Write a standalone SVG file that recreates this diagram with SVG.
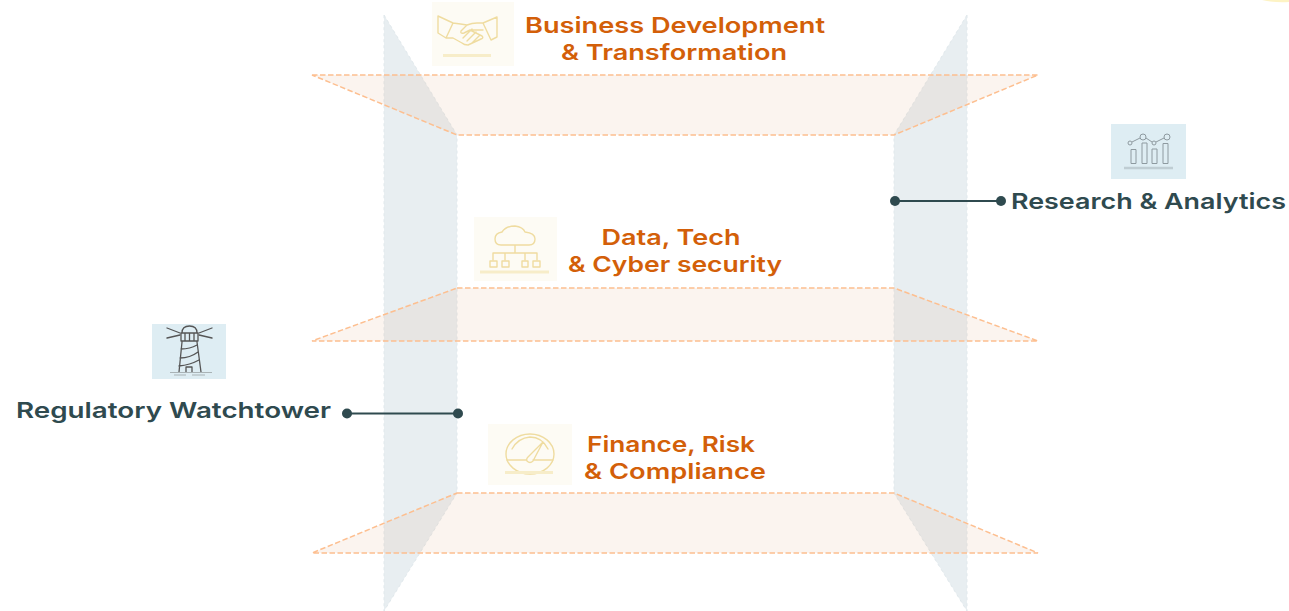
<svg xmlns="http://www.w3.org/2000/svg" width="1289" height="611" viewBox="0 0 1289 611">
<style>
.wall{fill:#e8eef1;stroke:#e0e8ec;stroke-width:1;stroke-dasharray:3 3}
.plane{fill:#e0b090;fill-opacity:.14;stroke:#fdbf90;stroke-width:1.5;stroke-dasharray:5.500 2.500}
.t{font-family:"Inter","Liberation Sans",sans-serif;font-weight:600;font-size:22px}
.o{fill:#d35f09}.d{fill:#2f4a4f}
.ibg{fill:#fdfbf4}.dbg{fill:#deedf3}
.y{fill:none;stroke:#efdca0;stroke-width:1.4;stroke-linejoin:round;stroke-linecap:round}
.yb{fill:none;stroke:#f7edc9;stroke-width:3}
.g{fill:none;stroke:#555;stroke-width:1.3;stroke-linejoin:round;stroke-linecap:round}
.b{fill:none;stroke:#8e9aa0;stroke-width:1;stroke-linejoin:round}
.c{stroke:#2f4a4f;stroke-width:2;fill:none}.dot{fill:#2f4a4f}
</style>
<path d="M1262 0 Q1275 3 1289 2 L1289 0Z" fill="#fdf3c4"/>
<g id="walls">
<polygon class="wall" points="384,15 457,135 457,493 384,611"/>
<polygon class="wall" points="967,15 894,135 894,493 967,611"/>
</g>
<g id="planes">
<polygon class="plane" points="312,75 1038,75 894,135 457,135"/>
<polygon class="plane" points="457,288 894,288 1038,341 312,341"/>
<polygon class="plane" points="457,493 894,493 1038,553 312,553"/>
</g>
<g id="connectors">
<line class="c" x1="347" y1="413.500" x2="458" y2="413.500"/>
<circle class="dot" cx="347" cy="413.500" r="5"/><circle class="dot" cx="458" cy="413.500" r="5"/>
<line class="c" x1="895" y1="201" x2="1001" y2="201"/>
<circle class="dot" cx="895" cy="201" r="5"/><circle class="dot" cx="1001" cy="201" r="5"/>
</g>
<g id="business-development">
<rect class="ibg" x="432" y="2" width="82" height="64"/>
<path class="y" d="M438 16 L453 23 L446 38 L438 33Z M497 17 L483 23 L491 40 L497 37Z M453 23 Q461 24 467 25 Q472 23 477 23 L483 23 M467 25 L461 31 Q460 34 464 33 L470 30 L482 36 Q484 38 481 39 L468 45 Q464 45 462 43 L453 38 L446 38 M476 32 L467 41 M480 35 L472 43 M472 29 L463 38 M470 30 L483 30"/>
<line class="yb" x1="443" y1="55.500" x2="491" y2="55.500"/>
<text class="t o" x="675" y="33" text-anchor="middle" textLength="300" lengthAdjust="spacingAndGlyphs">Business Development</text>
<text class="t o" x="674" y="60" text-anchor="middle" textLength="226" lengthAdjust="spacingAndGlyphs">&amp; Transformation</text>
</g>
<g id="data-tech">
<rect class="ibg" x="474" y="217" width="83" height="64"/>
<path class="y" d="M501 245 Q495 245 495 239 Q495 233 502 232 Q506 226 515 226 Q523 227 525 232 Q535 233 535 239 Q535 245 529 245Z M515 245 V253 M493 260 V253 H537 V260 M505 253 V260 M525 253 V260"/>
<path class="y" d="M490 261 h7 v6 h-7z M502 261 h7 v6 h-7z M522 261 h6 v6 h-6z M533 261 h7 v6 h-7z"/>
<line class="yb" x1="480" y1="272" x2="549" y2="272"/>
<text class="t o" x="671" y="245" text-anchor="middle" textLength="139" lengthAdjust="spacingAndGlyphs">Data, Tech</text>
<text class="t o" x="675" y="272" text-anchor="middle" textLength="214" lengthAdjust="spacingAndGlyphs">&amp; Cyber security</text>
</g>
<g id="finance-risk">
<rect class="ibg" x="488" y="424" width="84" height="61"/>
<ellipse class="y" cx="530" cy="454" rx="24" ry="20"/>
<path class="y" d="M507 460 H526 M533 460 H553 M543 442 L533 461 Q530 464 527 461 Q526 459 528 457Z M512 449 Q518 438 530 437 Q542 437 548 449"/>
<line class="yb" x1="505" y1="472.500" x2="553" y2="472.500"/>
<text class="t o" x="671" y="452" text-anchor="middle" textLength="168" lengthAdjust="spacingAndGlyphs">Finance, Risk</text>
<text class="t o" x="675" y="479" text-anchor="middle" textLength="182" lengthAdjust="spacingAndGlyphs">&amp; Compliance</text>
</g>
<g id="research-analytics">
<rect class="dbg" x="1111" y="124" width="75" height="55"/>
<path class="b" d="M1131 149.500 h5 v14 h-5z M1142 143 h5 v20.500 h-5z M1152 149 h5 v14.500 h-5z M1163 143.500 h5 v20 h-5z"/>
<path class="b" d="M1132 142 L1140 138 M1146 138 L1152 142 M1156 142 L1164 138"/>
<circle class="b" cx="1130" cy="143" r="2"/><circle class="b" cx="1143" cy="137" r="3"/><circle class="b" cx="1154" cy="143" r="2"/><circle class="b" cx="1167" cy="137" r="3"/>
<line x1="1124" y1="168" x2="1173" y2="168" stroke="#bfcdd3" stroke-width="2.500"/>
<text class="t d" x="1011" y="209" textLength="275" lengthAdjust="spacingAndGlyphs">Research &amp; Analytics</text>
</g>
<g id="regulatory-watchtower">
<rect class="dbg" x="152" y="324" width="74" height="55"/>
<path class="g" d="M182 333 Q182 326 189.500 326 Q197 326 197 333 M181 333 H198 M181 341 H198 V333 M181 333 V341 M185 333 V341 M189.500 333 V341 M194 333 V341 M182 342 L179 372 M197 342 L201 372 M181 349 Q190 349 197 345 M180 358 Q190 358 198 352 M179 366 Q190 365 199 360 M186 372 V367 H192 V372"/>
<path class="g" d="M167 328 L180 333 M167 338 L180 335 M212 328 L199 333 M212 338 L199 335"/>
<path d="M170 372.500 H212 M174 375 H186 M192 375 H205" stroke="#a9b3b6" stroke-width="1" fill="none"/>
<text class="t d" x="16" y="418" textLength="315" lengthAdjust="spacingAndGlyphs">Regulatory Watchtower</text>
</g>
</svg>
